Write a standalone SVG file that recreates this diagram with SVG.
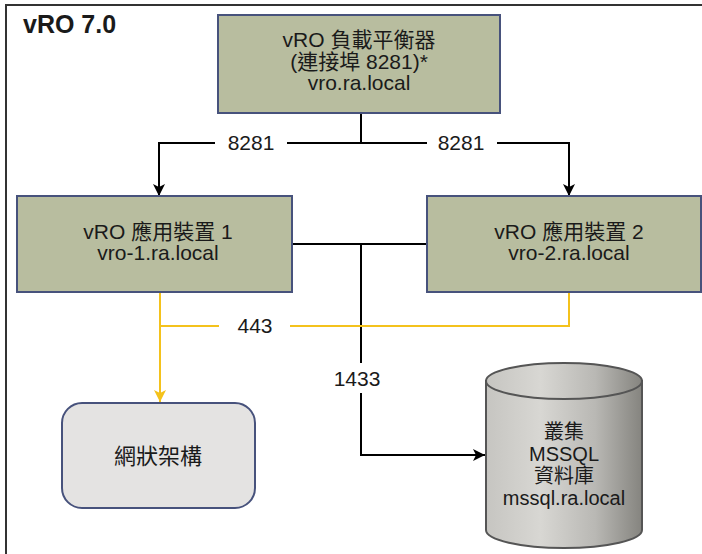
<svg xmlns="http://www.w3.org/2000/svg" width="702" height="554" viewBox="0 0 702 554">
<defs>
<style>
text{font-family:"Liberation Sans","Noto Sans CJK TC",sans-serif;fill:#1a1a1a;text-anchor:middle}
.t{font-size:21px}
.d{font-size:20px}
.box{fill:#b8bd9f;stroke:#47527c;stroke-width:2}
.blk{fill:none;stroke:#000;stroke-width:2}
.yel{fill:none;stroke:#f4c21c;stroke-width:2}
</style>
<marker id="ab" markerWidth="12" markerHeight="12" viewBox="0 0 12 12" refX="12" refY="6" orient="auto" markerUnits="userSpaceOnUse">
<path d="M0,0 L12,6 L0,12 L3,6 Z" fill="#000"/>
</marker>
<marker id="ay" markerWidth="12" markerHeight="12" viewBox="0 0 12 12" refX="12" refY="6" orient="auto" markerUnits="userSpaceOnUse">
<path d="M0,0 L12,6 L0,12 L3,6 Z" fill="#f4c21c"/>
</marker>
<linearGradient id="cyl" x1="0" y1="0" x2="1" y2="0">
<stop offset="0" stop-color="#c6c5c1"/>
<stop offset="0.35" stop-color="#d8d7d3"/>
<stop offset="0.7" stop-color="#b9b8b4"/>
<stop offset="1" stop-color="#85847f"/>
</linearGradient>
</defs>
<rect width="702" height="554" fill="#fff"/>
<path d="M6,554 V5 H702" fill="none" stroke="#333" stroke-width="2"/>
<text x="23" y="33" style="font-size:25px;font-weight:bold;text-anchor:start">vRO 7.0</text>

<g id="connectors">
<path class="blk" d="M361,113 V143 H287 M215,143 H159 V196" marker-end="url(#ab)"/>
<path class="blk" d="M361,143 H427 M497,143 H569 V196" marker-end="url(#ab)"/>
<path class="blk" d="M292,244 H427"/>
<path class="blk" d="M361,244 V363 M361,393 V455 H485" marker-end="url(#ab)"/>
<path class="yel" d="M160,292 V402" marker-end="url(#ay)"/>
<path class="yel" d="M160,326 H219 M290,326 H569 V292"/>
<text class="t" x="251" y="150">8281</text>
<text class="t" x="461" y="150">8281</text>
<text class="t" x="255" y="333">443</text>
<text class="t" x="357" y="386">1433</text>
</g>

<g id="lb">
<rect class="box" x="218" y="15" width="282" height="98"/>
<text class="t" x="359" y="47">vRO 負載平衡器</text>
<text class="t" x="359" y="69">(連接埠 8281)*</text>
<text class="t" x="359" y="90">vro.ra.local</text>
</g>

<g id="vro1">
<rect class="box" x="17" y="196" width="275" height="96"/>
<text class="t" x="158" y="239">vRO 應用裝置 1</text>
<text class="t" x="158" y="260">vro-1.ra.local</text>
</g>

<g id="vro2">
<rect class="box" x="427" y="196" width="274" height="96"/>
<text class="t" x="569" y="239">vRO 應用裝置 2</text>
<text class="t" x="569" y="260">vro-2.ra.local</text>
</g>

<g id="fabric">
<rect x="62" y="403" width="193" height="105" rx="20" fill="#e4e3e2" stroke="#47527c" stroke-width="2"/>
<text x="158" y="464" style="font-size:22px">網狀架構</text>
</g>

<g id="db">
<path d="M486,381 V530 A78,18 0 0 0 642,530 V381 Z" fill="url(#cyl)" stroke="#555" stroke-width="2"/>
<ellipse cx="564" cy="381" rx="78" ry="18" fill="url(#cyl)" stroke="#555" stroke-width="2"/>
<text class="d" x="564" y="439">叢集</text>
<text class="d" x="564" y="461">MSSQL</text>
<text class="d" x="564" y="483">資料庫</text>
<text class="d" x="564" y="505">mssql.ra.local</text>
</g>
</svg>
